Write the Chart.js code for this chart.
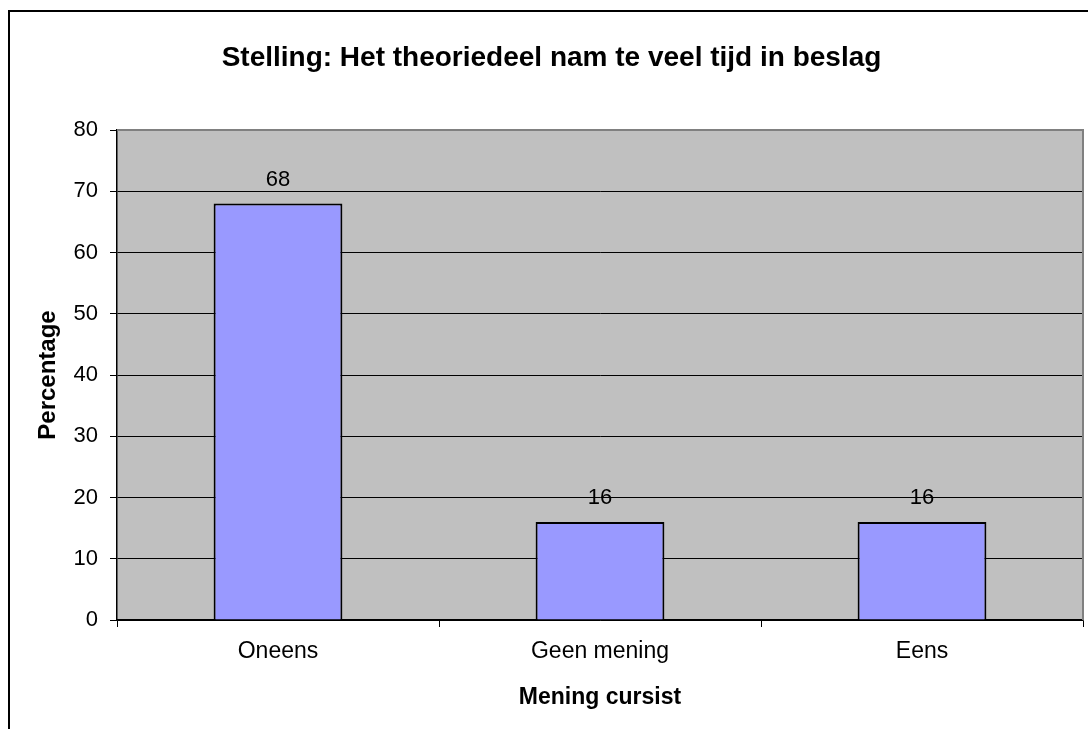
<!DOCTYPE html>
<html>
<head>
<meta charset="utf-8">
<script src="https://cdn.jsdelivr.net/npm/chart.js@4.4.1/dist/chart.umd.min.js"></script>
<style>
  html, body { margin: 0; padding: 0; background: #fff; }
  #wrap { width: 1088px; height: 729px; position: relative; }
</style>
</head>
<body>
<div id="wrap"><canvas id="myChart"></canvas></div>
<script>
var categories = ['Oneens', 'Geen mening', 'Eens'];
var percentages = [68, 16, 16];
var yTicks = [0, 10, 20, 30, 40, 50, 60, 70, 80];

var FONT = '"Liberation Sans", Arial, sans-serif';

// grey plot background, grey top/right border, and the outer frame
var plotDeco = {
  id: 'plotDeco',
  beforeDraw: function (chart) {
    var c = chart.ctx, a = chart.chartArea;
    c.save();
    c.fillStyle = '#C0C0C0';
    c.fillRect(a.left, a.top, a.right - a.left, a.bottom - a.top);
    c.restore();
  },
  afterDraw: function (chart) {
    var c = chart.ctx, a = chart.chartArea;
    c.save();
    c.strokeStyle = '#808080';
    c.lineWidth = 2;
    c.beginPath();
    c.moveTo(a.left, a.top);
    c.lineTo(a.right, a.top);
    c.lineTo(a.right, a.bottom);
    c.stroke();
    c.strokeStyle = '#000';
    c.lineWidth = 2;
    c.beginPath();
    c.moveTo(9, chart.height);
    c.lineTo(9, 11);
    c.lineTo(chart.width, 11);
    c.stroke();
    c.restore();
  }
};

// value labels above the bars
var barLabels = {
  id: 'barLabels',
  afterDatasetsDraw: function (chart) {
    var c = chart.ctx;
    var meta = chart.getDatasetMeta(0);
    c.save();
    c.font = '22px ' + FONT;
    c.fillStyle = '#000';
    c.textAlign = 'center';
    c.textBaseline = 'middle';
    meta.data.forEach(function (bar, i) {
      c.fillText(String(chart.data.datasets[0].data[i]), bar.x, bar.y - 24);
    });
    c.restore();
  }
};

var ctx = document.getElementById('myChart').getContext('2d');
var chart = new Chart(ctx, {
  type: 'bar',
  data: {
    labels: categories,
    datasets: [{
      label: 'Percentage',
      data: percentages,
      backgroundColor: '#9999FF',
      borderColor: '#000',
      borderWidth: 2,
      barPercentage: 0.4,
      categoryPercentage: 1.0
    }]
  },
  options: {
    responsive: true,
    maintainAspectRatio: false,
    animation: false,
    layout: { padding: { left: 20, right: 5, top: 0, bottom: 0 } },
    plugins: {
      legend: { display: false },
      tooltip: { enabled: false },
      title: {
        display: true,
        text: 'Stelling: Het theoriedeel nam te veel tijd in beslag',
        color: '#000',
        font: { family: FONT, size: 28, weight: 'bold' },
        padding: { top: 41, bottom: 55.4 }
      }
    },
    scales: {
      x: {
        grid: {
          display: true,
          drawOnChartArea: false,
          drawTicks: true,
          tickLength: 7,
          offset: true,
          color: '#000'
        },
        border: { display: true, color: '#000', width: 1.5 },
        ticks: {
          color: '#000',
          font: { family: FONT, size: 23 },
          padding: 11
        },
        title: {
          display: true,
          text: 'Mening cursist',
          color: '#000',
          font: { family: FONT, size: 23, weight: 'bold' },
          padding: { top: 0, bottom: 18 }
        },
        afterFit: function (scale) { scale.height = 109; }
      },
      y: {
        min: 0,
        max: 80,
        afterBuildTicks: function (scale) {
          scale.ticks = yTicks.map(function (v) { return { value: v }; });
        },
        grid: {
          color: function (c) { return c.tick && c.tick.value === 80 ? '#808080' : '#000'; },
          tickColor: '#000',
          tickLength: 7,
          lineWidth: 1
        },
        border: { display: true, color: '#000', width: 1.5 },
        ticks: {
          color: '#000',
          font: { family: FONT, size: 22 },
          padding: 12
        },
        title: {
          display: true,
          text: 'Percentage',
          color: '#000',
          font: { family: FONT, size: 24, weight: 'bold' },
          padding: { top: 14, bottom: 0 }
        },
        afterFit: function (scale) { scale.width = 97; }
      }
    }
  },
  plugins: [plotDeco, barLabels]
});
</script>
</body>
</html>
